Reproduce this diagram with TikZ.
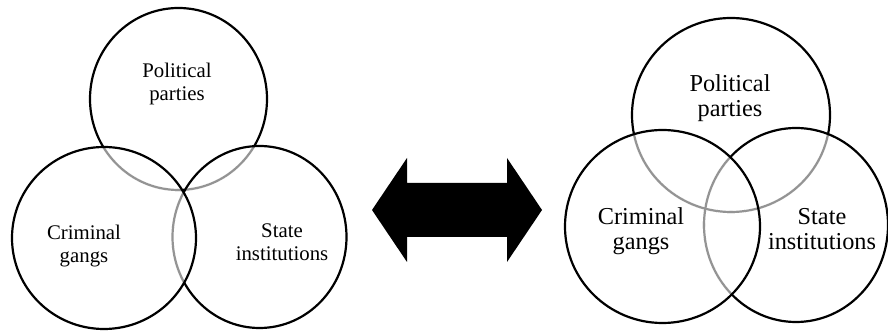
\documentclass[tikz,border=0pt]{standalone}
\usepackage{fontspec}
\setmainfont{Liberation Serif}
\begin{document}
\begin{tikzpicture}[x=1pt,y=1pt,
  ring/.style={line width=2.2pt, draw=black},
  faint/.style={line width=2.2pt, draw=black!42},
  wipe/.style={line width=3.4pt, draw=white},
  lbl/.style={align=center, inner sep=0pt},
  lblA/.style={lbl, font=\fontsize{20.8}{23}\selectfont},
  lblB/.style={lbl, font=\fontsize{24.3}{25}\selectfont}]
\useasboundingbox (0,0) rectangle (888,331);

% ---------- left diagram ----------
\draw[ring] (178.5,232) ellipse [x radius=88.5, y radius=91];
\begin{scope}
  \clip (259.5,94) ellipse [x radius=87, y radius=91];
  \draw[wipe]  (178.5,232) ellipse [x radius=88.5, y radius=91];
  \draw[faint] (178.5,232) ellipse [x radius=88.5, y radius=91];
\end{scope}
\draw[ring] (259.5,94) ellipse [x radius=87, y radius=91];
\begin{scope}
  \clip (104,93) ellipse [x radius=92, y radius=91];
  \draw[wipe]  (178.5,232) ellipse [x radius=88.5, y radius=91];
  \draw[wipe]  (259.5,94) ellipse [x radius=87, y radius=91];
  \draw[faint] (178.5,232) ellipse [x radius=88.5, y radius=91];
  \draw[faint] (259.5,94) ellipse [x radius=87, y radius=91];
\end{scope}
\draw[ring] (104,93) ellipse [x radius=92, y radius=91];

\node[lblA] (pp1) at (177,247) {Political\\parties};
\node[lblA] (cg1) at (84,85) {Criminal\\gangs};
\node[lblA] (si1) at (282,89) {State\\institutions};

% ---------- double arrow ----------
\fill[black] (372,121) -- (407,173) -- (407,148) -- (507,148) -- (507,173)
  -- (542,121) -- (507,69) -- (507,94) -- (407,94) -- (407,69) -- cycle;

% ---------- right diagram ----------
\draw[ring] (731,216) ellipse [x radius=99, y radius=97];
\begin{scope}
  \clip (796,106) ellipse [x radius=92, y radius=97];
  \draw[wipe]  (731,216) ellipse [x radius=99, y radius=97];
  \draw[faint] (731,216) ellipse [x radius=99, y radius=97];
\end{scope}
\draw[ring] (796,106) ellipse [x radius=92, y radius=97];
\begin{scope}
  \clip (662.5,104.5) ellipse [x radius=97.5, y radius=96.5];
  \draw[wipe]  (731,216) ellipse [x radius=99, y radius=97];
  \draw[wipe]  (796,106) ellipse [x radius=92, y radius=97];
  \draw[faint] (731,216) ellipse [x radius=99, y radius=97];
  \draw[faint] (796,106) ellipse [x radius=92, y radius=97];
\end{scope}
\draw[ring] (662.5,104.5) ellipse [x radius=97.5, y radius=96.5];

\node[lblB] (pp2) at (730,233) {Political\\parties};
\node[lblB] (cg2) at (641,100) {Criminal\\gangs};
\node[lblB] (si2) at (822,102) {State\\institutions};
\end{tikzpicture}
\end{document}
